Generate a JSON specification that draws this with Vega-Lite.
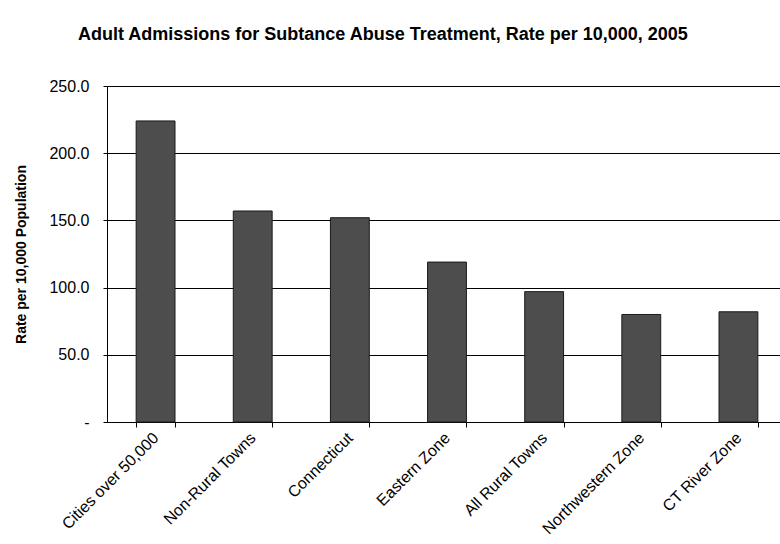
{
  "$schema": "https://vega.github.io/schema/vega-lite/v6.json",
  "autosize": {"type": "none"},
  "width": 680,
  "height": 336,
  "padding": {"left": 107, "top": 86, "right": 0, "bottom": 122},
  "background": "white",
  "title": {
    "text": "Adult Admissions for Subtance Abuse Treatment, Rate per 10,000, 2005",
    "font": "Liberation Sans",
    "fontSize": 18,
    "fontWeight": "bold",
    "color": "black",
    "anchor": "start",
    "frame": "group",
    "dx": -29,
    "offset": 34
  },
  "data": {
    "values": [
      {"area": "Cities over 50,000", "rate": 224},
      {"area": "Non-Rural Towns", "rate": 157},
      {"area": "Connecticut", "rate": 152},
      {"area": "Eastern Zone", "rate": 119},
      {"area": "All Rural Towns", "rate": 97},
      {"area": "Northwestern Zone", "rate": 80},
      {"area": "CT River Zone", "rate": 82}
    ]
  },
  "mark": {"type": "bar", "fill": "#4d4d4d", "stroke": "#1a1a1a", "strokeWidth": 1},
  "encoding": {
    "x": {
      "field": "area",
      "type": "nominal",
      "sort": null,
      "scale": {"paddingInner": 0.6, "paddingOuter": 0.3},
      "axis": {
        "title": null,
        "labelAngle": -45,
        "labelAlign": "right",
        "labelBaseline": "middle",
        "labelFont": "Liberation Sans",
        "labelFontSize": 16,
        "labelColor": "black",
        "labelPadding": 8,
        "tickBand": "extent",
        "tickColor": "black",
        "tickSize": 5,
        "domainColor": "black",
        "grid": false
      }
    },
    "y": {
      "field": "rate",
      "type": "quantitative",
      "scale": {"domain": [0, 250]},
      "axis": {
        "title": "Rate per 10,000 Population",
        "titleFont": "Liberation Sans",
        "titleFontSize": 14,
        "titleFontWeight": "bold",
        "titleColor": "black",
        "titlePadding": 20,
        "values": [0, 50, 100, 150, 200, 250],
        "labelExpr": "datum.value == 0 ? '-' : format(datum.value, '.1f')",
        "labelFont": "Liberation Sans",
        "labelFontSize": 16,
        "labelColor": "black",
        "labelPadding": 14,
        "tickColor": "black",
        "tickSize": 4,
        "domainColor": "black",
        "grid": true,
        "gridColor": "black",
        "gridWidth": 1
      }
    }
  },
  "config": {"view": {"stroke": null}}
}
